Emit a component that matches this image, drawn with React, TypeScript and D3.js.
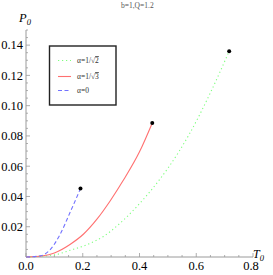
import React, { useRef, useEffect } from "react";
import * as d3 from "d3";

type Pt = [number, number];

// values (T0, P0)
const greenSeries: Pt[] = [
  [0, 0], [0.1, 0.0014], [0.155, 0.0044], [0.214, 0.0081], [0.273, 0.0136],
  [0.332, 0.0224], [0.391, 0.0334], [0.466, 0.05], [0.505, 0.06],
  [0.575, 0.081], [0.646, 0.107], [0.716, 0.136],
];
const redSeries: Pt[] = [
  [0, 0], [0.06, 0.0008], [0.1, 0.0027], [0.155, 0.0083], [0.203, 0.0152],
  [0.25, 0.025], [0.297, 0.0372], [0.344, 0.051], [0.4, 0.0695], [0.445, 0.0886],
];
const blueSeries: Pt[] = [
  [0, 0], [0.049, 0.0007], [0.084, 0.0046], [0.119, 0.0145], [0.154, 0.0289],
  [0.192, 0.0452],
];
const xTicks = [0, 0.2, 0.4, 0.6, 0.8];
const yTicks = [0.02, 0.04, 0.06, 0.08, 0.1, 0.12, 0.14];
const legendLabels = ["\u03b1=1/\u221a2", "\u03b1=1/\u221a3", "\u03b1=0"];

const W = 273;
const H = 275;

const App: React.FC = () => {
  const svgRef = useRef<SVGSVGElement>(null);

  useEffect(() => {
    if (!svgRef.current) return;
    const svg = d3.select(svgRef.current);
    svg.selectAll("*").remove();

    const x = d3.scaleLinear().domain([0, 0.8]).range([26, 253]);
    const y = d3.scaleLinear().domain([0, 0.15]).range([257, 30]);
    const serif = "'Liberation Serif', 'DejaVu Serif', serif";
    const axisColor = "#9a9a9a";

    const g = svg.append("g");

    // axes lines
    g.append("line")
      .attr("x1", x(0)).attr("x2", x(0.8))
      .attr("y1", y(0)).attr("y2", y(0))
      .attr("stroke", axisColor).attr("stroke-width", 1);
    g.append("line")
      .attr("x1", x(0)).attr("x2", x(0))
      .attr("y1", y(0)).attr("y2", y(0.15))
      .attr("stroke", axisColor).attr("stroke-width", 1);

    // x ticks (major + minor)
    d3.range(0, 0.801, 0.05).forEach((v, i) => {
      const major = i % 4 === 0;
      g.append("line")
        .attr("x1", x(v)).attr("x2", x(v))
        .attr("y1", y(0)).attr("y2", y(0) - (major ? 4 : 2))
        .attr("stroke", axisColor).attr("stroke-width", 0.8);
    });
    g.selectAll(".xlab")
      .data(xTicks)
      .enter()
      .append("text")
      .attr("x", (d) => x(d) - (d === 0.8 ? 2 : 0))
      .attr("y", 269.5)
      .attr("text-anchor", "middle")
      .attr("font-family", serif)
      .attr("font-size", 12.5)
      .text((d) => d3.format(".1f")(d));

    // y ticks
    d3.range(0, 0.1501, 0.005).forEach((v, i) => {
      const major = i % 4 === 0;
      g.append("line")
        .attr("x1", x(0)).attr("x2", x(0) + (major ? 4 : 2))
        .attr("y1", y(v)).attr("y2", y(v))
        .attr("stroke", axisColor).attr("stroke-width", 0.8);
    });
    g.selectAll(".ylab")
      .data(yTicks)
      .enter()
      .append("text")
      .attr("x", 23)
      .attr("y", (d) => y(d) + 4.3)
      .attr("text-anchor", "end")
      .attr("font-family", serif)
      .attr("font-size", 12.5)
      .text((d) => d3.format(".2f")(d));

    // axis labels
    const pLab = g.append("text")
      .attr("x", 19).attr("y", 22)
      .attr("font-family", serif).attr("font-style", "italic")
      .attr("font-size", 12.5);
    pLab.append("tspan").text("P");
    pLab.append("tspan").attr("font-size", 8.5).attr("dy", 2.5).text("0");

    const tLab = g.append("text")
      .attr("x", 253).attr("y", 258)
      .attr("font-family", serif).attr("font-style", "italic")
      .attr("font-size", 12);
    tLab.append("tspan").text("T");
    tLab.append("tspan").attr("font-size", 8.5).attr("dy", 3).text("0");

    // title
    g.append("text")
      .attr("x", 121).attr("y", 7.5)
      .attr("font-family", serif).attr("font-size", 7.5)
      .attr("fill", "#555")
      .text("b=1,Q=1.2");

    // curves
    const line = d3
      .line<Pt>()
      .x((d) => x(d[0]))
      .y((d) => y(d[1]))
      .curve(d3.curveMonotoneX);

    const series = [
      { data: greenSeries, color: "#7dff7d", dash: "1.2 2.8" },
      { data: redSeries, color: "#ff7070", dash: null },
      { data: blueSeries, color: "#7272ff", dash: "4 2.5" },
    ];

    series.forEach((s) => {
      g.append("path")
        .datum(s.data)
        .attr("fill", "none")
        .attr("stroke", s.color)
        .attr("stroke-width", 1.1)
        .attr("stroke-dasharray", s.dash)
        .attr("d", line);
    });

    // end points
    g.selectAll(".dot")
      .data(series.map((s) => s.data[s.data.length - 1]))
      .enter()
      .append("circle")
      .attr("cx", (d) => x(d[0]))
      .attr("cy", (d) => y(d[1]))
      .attr("r", 2)
      .attr("fill", "#000");

    // legend
    const lg = g.append("g");
    lg.append("rect")
      .attr("x", 49.5).attr("y", 46)
      .attr("width", 66.5).attr("height", 59)
      .attr("fill", "#fff")
      .attr("stroke", "#222")
      .attr("stroke-width", 1.4);
    const rowY = [60.5, 76.5, 90.5];
    series.forEach((s, i) => {
      lg.append("line")
        .attr("x1", 58).attr("x2", 71)
        .attr("y1", rowY[i]).attr("y2", rowY[i])
        .attr("stroke", s.color)
        .attr("stroke-width", 1.1)
        .attr("stroke-dasharray", s.dash);
      const label = legendLabels[i];
      const t = lg.append("text")
        .attr("x", 77).attr("y", rowY[i] + 2.5)
        .attr("font-family", serif).attr("font-size", 7.5)
        .attr("fill", "#333");
      if (label.includes("\u221a")) {
        const [head, rad] = label.split("\u221a");
        t.append("tspan").text(head + "\u221a");
        t.append("tspan").attr("text-decoration", "overline").text(rad);
      } else {
        t.text(label);
      }
    });
  }, []);

  return (
    <div style={{ position: "absolute", left: 0, top: 0, width: W, height: H, background: "#fff" }}>
      <svg ref={svgRef} width={W} height={H} style={{ display: "block" }}></svg>
    </div>
  );
};

export default App;
